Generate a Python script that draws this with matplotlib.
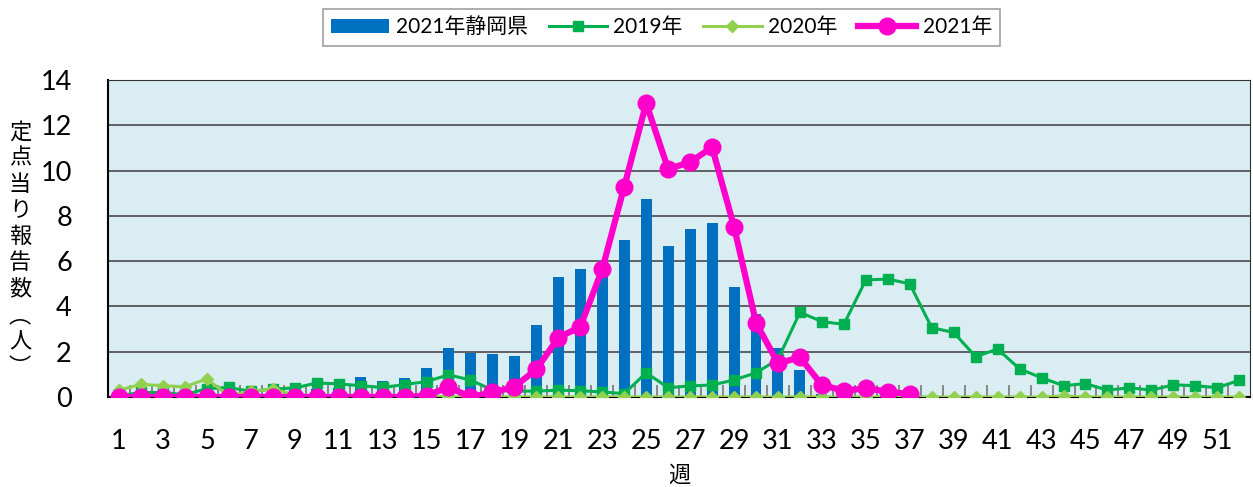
import numpy as np
import matplotlib
matplotlib.use("Agg")
import matplotlib.pyplot as plt
from matplotlib.ticker import MultipleLocator, FixedLocator

plt.rcParams['font.family'] = ['Lato', 'Noto Sans CJK JP', 'DejaVu Sans']

weeks = np.arange(1, 53)

# 2021 Shizuoka (bars), weeks 1-37
shizuoka_2021 = [0.05, 0.1, 0.1, 0.1, 0.35, 0.3, 0.2, 0.3, 0.3, 0.35, 0.4, 0.88, 0.7,
                 0.82, 1.27, 2.18, 1.96, 1.88, 1.81, 3.19, 5.3, 5.64, 5.5, 6.93, 8.75,
                 6.68, 7.4, 7.68, 4.87, 3.65, 2.15, 1.18, 0.15, 0.05, 0.05, 0.05, 0.0]

y2019 = [0.05, 0.2, 0.2, 0.1, 0.37, 0.42, 0.25, 0.35, 0.4, 0.62, 0.58, 0.5, 0.42,
         0.55, 0.68, 0.98, 0.75, 0.31, 0.26, 0.26, 0.3, 0.28, 0.22, 0.15, 1.07,
         0.41, 0.49, 0.53, 0.75, 1.07, 1.66, 3.74, 3.33, 3.21, 5.17, 5.21, 5.0,
         3.06, 2.85, 1.78, 2.12, 1.24, 0.85, 0.5, 0.59, 0.3, 0.41, 0.3, 0.54,
         0.5, 0.41, 0.74]

y2020 = [0.3, 0.56, 0.5, 0.45, 0.8, 0.05, 0.25, 0.35, 0.1, 0.05, 0.05, 0.05, 0.05,
         0.05, 0.05, 0.0, 0.0, 0.0, 0.0, 0.0, 0.0, 0.0, 0.0, 0.0, 0.0, 0.0, 0.0,
         0.0, 0.0, 0.0, 0.0, 0.0, 0.0, 0.0, 0.0, 0.0, 0.0, 0.0, 0.0, 0.0, 0.0,
         0.0, 0.0, 0.05, 0.0, 0.0, 0.0, 0.0, 0.0, 0.0, 0.0, 0.0]

y2021 = [0, 0, 0, 0, 0, 0, 0, 0, 0, 0, 0, 0, 0, 0, 0.05, 0.45, 0.0, 0.2, 0.45,
         1.22, 2.62, 3.1, 5.64, 9.29, 12.97, 10.07, 10.37, 11.03, 7.52, 3.28,
         1.49, 1.75, 0.53, 0.28, 0.38, 0.24, 0.12]

fig = plt.figure(figsize=(12.53, 4.87), dpi=100)
ax = fig.add_axes([0.0862, 0.1848, 0.9116, 0.6509])
ax.set_facecolor('#DAEDF3')

bars = ax.bar(weeks[:len(shizuoka_2021)], shizuoka_2021, width=0.5, color='#0070C0',
              label='2021年静岡県', zorder=2)
l19, = ax.plot(weeks, y2019, color='#00B050', lw=2.2, marker='s', ms=7.5,
               label='2019年', zorder=3)
l20, = ax.plot(weeks, y2020, color='#92D050', lw=2.2, marker='D', ms=6.5,
               label='2020年', zorder=4)
l21, = ax.plot(weeks[:len(y2021)], y2021, color='#FF00CC', lw=4.5, marker='o', ms=12,
               label='2021年', zorder=5)

ax.set_xlim(0.5, 52.5)
ax.set_ylim(0, 14)
ax.yaxis.set_major_locator(MultipleLocator(2))
ax.grid(axis='y', color='#555555', lw=1.3, zorder=1)
ax.set_axisbelow(True)

ax.xaxis.set_major_locator(FixedLocator(list(range(1, 53, 2))))
ax.xaxis.set_minor_locator(FixedLocator(list(np.arange(1.5, 52.5, 1.0))))
ax.tick_params(axis='x', which='major', length=0, pad=23, labelsize=19.5)
ax.tick_params(axis='x', which='minor', direction='in', length=9,
               color='#777777', width=1.2)
ax.tick_params(axis='y', length=0, pad=26, labelsize=19.5)

for s in ['left', 'bottom']:
    ax.spines[s].set_color('black')
    ax.spines[s].set_linewidth(1.5)
ax.spines['top'].set_color('#333333')
ax.spines['right'].set_color('#333333')

ax.set_xlabel('週', fontsize=16, family=['Noto Sans CJK JP'], labelpad=7)

fig.text(0.016, 0.487, '定\n点\n当\nり\n報\n告\n数\n︵\n人\n︶', fontsize=16,
         family=['Noto Sans CJK JP'], ha='center', va='center',
         linespacing=1.18)

leg = fig.legend(handles=[bars, l19, l20, l21], loc='center',
                 bbox_to_anchor=(0.528, 0.944), ncol=4,
                 frameon=True, fancybox=False, edgecolor='#888888',
                 handlelength=2.8, columnspacing=1.0, handletextpad=0.3,
                 borderpad=0.4, prop={'family': ['Lato', 'Noto Sans CJK JP'], 'size': 15})
leg.get_frame().set_linewidth(1.2)

fig.savefig('out.png', dpi=100)
